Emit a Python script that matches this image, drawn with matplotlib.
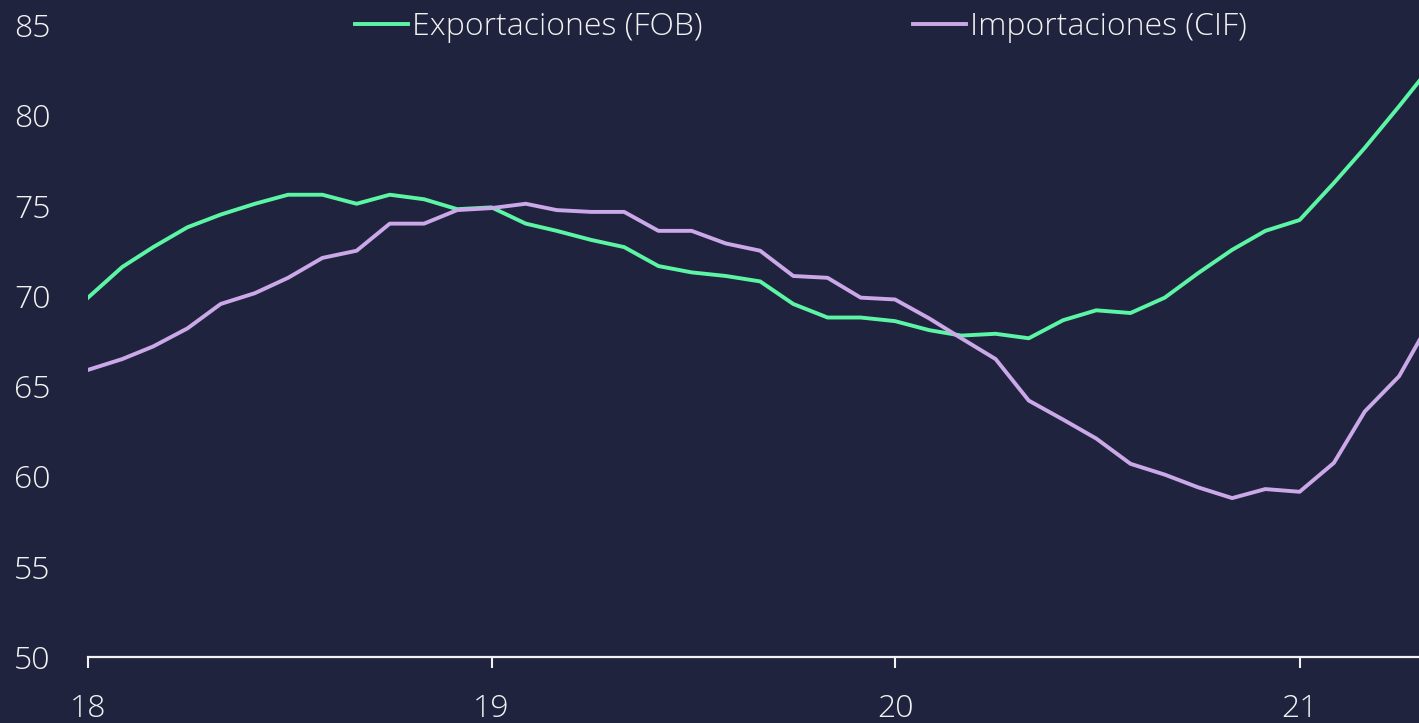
import pandas as pd
import matplotlib
matplotlib.use('Agg')
import matplotlib.pyplot as plt
import matplotlib.dates as mdates

# Datos mensuales (ene-2018 a may-2021)
fechas = pd.date_range('2018-01-01', '2021-05-01', freq='MS')

exportaciones = [
    69.9, 71.6, 72.7, 73.8, 74.5, 75.1, 75.6, 75.6, 75.1, 75.6, 75.35, 74.8,
    74.9, 74.0, 73.6, 73.1, 72.7, 71.65, 71.3, 71.1, 70.8, 69.55, 68.8, 68.8,
    68.6, 68.1, 67.8, 67.9, 67.65, 68.65, 69.2, 69.05, 69.9, 71.25, 72.55, 73.6,
    74.2, 76.25, 78.2, 80.5, 82.8,
]
importaciones = [
    65.9, 66.5, 67.2, 68.2, 69.55, 70.15, 71.0, 72.1, 72.5, 74.0, 74.0, 74.75,
    74.86, 75.1, 74.75, 74.65, 74.65, 73.6, 73.6, 72.9, 72.5, 71.1, 71.0, 69.9,
    69.8, 68.75, 67.65, 66.5, 64.2, 63.15, 62.1, 60.7, 60.1, 59.4, 58.8, 59.3,
    59.15, 60.75, 63.6, 65.55, 68.8,
]

fondo = '#1f233d'
texto = '#f2f2f2'
verde = '#5cf5a5'
morado = '#cba8e8'

plt.rcParams['font.family'] = ['Open Sans', 'DejaVu Sans']
plt.rcParams['font.weight'] = 'light'

fig = plt.figure(figsize=(14.19, 7.23), dpi=100, facecolor=fondo)
ax = fig.add_axes([88 / 1419, 66 / 723, 1 - 88 / 1419, 632 / 723])
ax.set_facecolor(fondo)

ax.plot(fechas, exportaciones, color=verde, linewidth=2.8, label='Exportaciones (FOB)')
ax.plot(fechas, importaciones, color=morado, linewidth=2.8, label='Importaciones (CIF)')

ax.set_ylim(50, 85)
ax.set_yticks([50, 55, 60, 65, 70, 75, 80, 85])
ax.set_xlim(pd.Timestamp('2018-01-01'), pd.Timestamp('2021-04-19'))
ax.xaxis.set_major_locator(mdates.YearLocator())
ax.xaxis.set_major_formatter(mdates.DateFormatter('%y'))

for lado in ['top', 'right', 'left']:
    ax.spines[lado].set_visible(False)
ax.spines['bottom'].set_color(texto)
ax.spines['bottom'].set_linewidth(1.6)

ax.tick_params(axis='x', colors=texto, labelsize=23, length=8, width=1.5, pad=18)
ax.tick_params(axis='y', colors=texto, labelsize=23, length=0, pad=27)

leg = ax.legend(loc='center', bbox_to_anchor=(0.5645, 0.962), bbox_transform=fig.transFigure,
                ncol=2, frameon=False, fontsize=23, handlelength=1.65, handletextpad=0.12,
                columnspacing=6.6)
for t in leg.get_texts():
    t.set_color(texto)

fig.savefig('out.png', dpi=100, facecolor=fondo)
